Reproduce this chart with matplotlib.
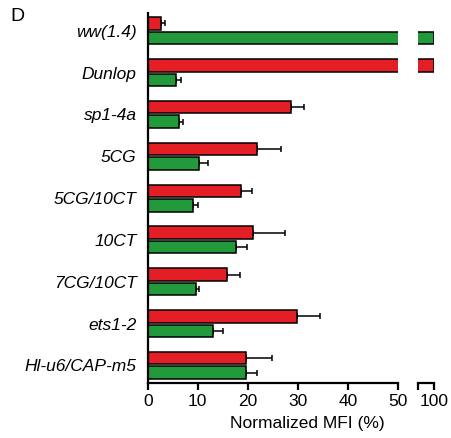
import matplotlib.pyplot as plt
import numpy as np

plt.rcParams['font.family'] = ['Liberation Sans', 'DejaVu Sans']

strains = ['ww(1.4)', 'Dunlop', 'sp1-4a', '5CG', '5CG/10CT',
           '10CT', '7CG/10CT', 'ets1-2', 'Hl-u6/CAP-m5']
red_values = [2.7, 100, 28.6, 21.9, 18.7, 21.0, 15.8, 29.9, 19.6]
red_errors = [0.8, 0, 2.7, 4.7, 2.2, 6.5, 2.7, 4.6, 5.2]
green_values = [100, 5.7, 6.3, 10.3, 9.1, 17.6, 9.6, 13.1, 19.6]
green_errors = [0, 1.0, 0.7, 1.7, 0.9, 2.2, 0.6, 2.0, 2.2]

RED = '#e31e24'
GREEN = '#22993a'
FS = 12.5

fig = plt.figure(figsize=(4.52, 4.38), dpi=100)
ax1 = fig.add_axes([0.327, 0.1256, 0.553, 0.8444])
ax2 = fig.add_axes([0.924, 0.1256, 0.036, 0.8444])

y = np.arange(len(strains))
offset = 0.173
height = 0.30


def draw_bars(ax):
    for vals, errs, color, dy in [(red_values, red_errors, RED, -offset),
                                  (green_values, green_errors, GREEN, offset)]:
        ax.barh(y + dy, vals, height=height, color=color, edgecolor='black',
                linewidth=1.1, zorder=2)
        # only bars with a measured spread get an error bar
        idx = [i for i, e in enumerate(errs) if e > 0]
        ax.errorbar([vals[i] for i in idx], [y[i] + dy for i in idx],
                    xerr=[np.zeros(len(idx)), [errs[i] for i in idx]], fmt='none',
                    ecolor='black', elinewidth=1.1, capsize=2.5, capthick=1.1, zorder=1)
    ax.set_ylim(len(strains) - 1 + 0.42, -0.42)
    for side in ['top', 'right']:
        ax.spines[side].set_visible(False)
    ax.spines['bottom'].set_linewidth(1.6)
    ax.tick_params(axis='x', width=1.6, length=5, labelsize=FS, pad=3)


draw_bars(ax1)
ax1.set_xlim(0, 50)
ax1.set_xticks([0, 10, 20, 30, 40, 50])
ax1.spines['left'].set_linewidth(1.6)
ax1.set_yticks(y)
ax1.set_yticklabels(strains, fontstyle='italic', fontsize=FS)
ax1.tick_params(axis='y', length=0, pad=8)
ax1.set_xlabel('Normalized MFI (%)', fontsize=FS, labelpad=5, x=0.64)

draw_bars(ax2)
ax2.set_xlim(97, 100)
ax2.set_xticks([97, 100])
ax2.set_xticklabels(['', '100'])
ax2.spines['left'].set_visible(False)
ax2.set_yticks([])

fig.text(0.022, 0.952, 'D', fontsize=14)

fig.savefig('out.png', dpi=100)
